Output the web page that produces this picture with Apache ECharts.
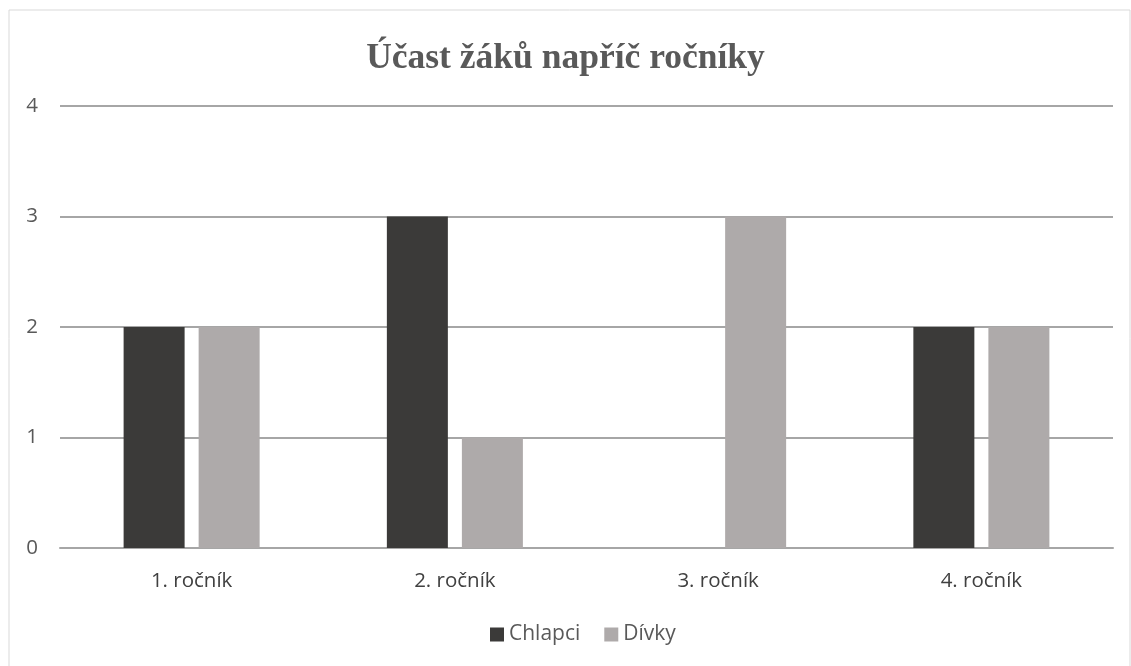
<!DOCTYPE html>
<html>
<head>
<meta charset="utf-8">
<script src="https://cdn.jsdelivr.net/npm/echarts@6/dist/echarts.min.js"></script>
<style>
    html, body { margin: 0; padding: 0; background: #fff; }
    #chart { width: 1131px; height: 666px; }
</style>
</head>
<body>
<div id="chart"></div>
<script>
    // ročníky a počty žáků
    const categories = ['1. ročník', '2. ročník', '3. ročník', '4. ročník'];
    const chlapci = [2, 3, 0, 2];
    const divky = [2, 1, 3, 2];
    const yTicks = [0, 1, 2, 3, 4];

    const chart = echarts.init(document.getElementById('chart'));
    chart.setOption({
        animation: false,
        graphic: [{
            type: 'rect',
            shape: { x: 9, y: 10, width: 1121, height: 660 },
            style: { fill: 'none', stroke: '#d9d9d9', lineWidth: 1 },
            silent: true
        }],
        title: {
            text: 'Účast žáků napříč ročníky',
            left: 'center',
            top: 36,
            textStyle: {
                fontFamily: '"Liberation Serif", "DejaVu Serif", serif',
                fontWeight: 'bold',
                fontSize: 35.5,
                color: '#595959'
            }
        },
        legend: {
            top: 619,
            left: 485,
            itemWidth: 14,
            itemHeight: 14,
            itemGap: 24,
            icon: 'rect',
            textStyle: {
                fontFamily: '"Open Sans", "Noto Sans", sans-serif',
                fontSize: 21,
                color: '#595959'
            },
            data: ['Chlapci', 'Dívky']
        },
        grid: {
            left: 60,
            right: 18,
            top: 106,
            bottom: 118,
            containLabel: false
        },
        xAxis: {
            type: 'category',
            data: categories,
            axisLine: { show: true, lineStyle: { color: '#a6a6a6', width: 2 } },
            axisTick: { show: false },
            axisLabel: {
                fontFamily: '"Open Sans", "Noto Sans", sans-serif',
                fontSize: 20.5,
                color: '#404040',
                margin: 23
            }
        },
        yAxis: {
            type: 'value',
            min: yTicks[0],
            max: yTicks[yTicks.length - 1],
            interval: 1,
            axisLine: { show: false },
            axisTick: { show: false },
            axisLabel: {
                fontFamily: '"Open Sans", "Noto Sans", sans-serif',
                fontSize: 20.5,
                color: '#595959',
                margin: 22
            },
            splitLine: { lineStyle: { color: '#a6a6a6', width: 2 } }
        },
        series: [
            {
                name: 'Chlapci',
                type: 'bar',
                data: chlapci,
                barWidth: 61,
                barGap: '23%',
                itemStyle: { color: '#3b3a39' }
            },
            {
                name: 'Dívky',
                type: 'bar',
                data: divky,
                barWidth: 61,
                itemStyle: { color: '#aeaaaa' }
            }
        ]
    });
</script>
</body>
</html>
